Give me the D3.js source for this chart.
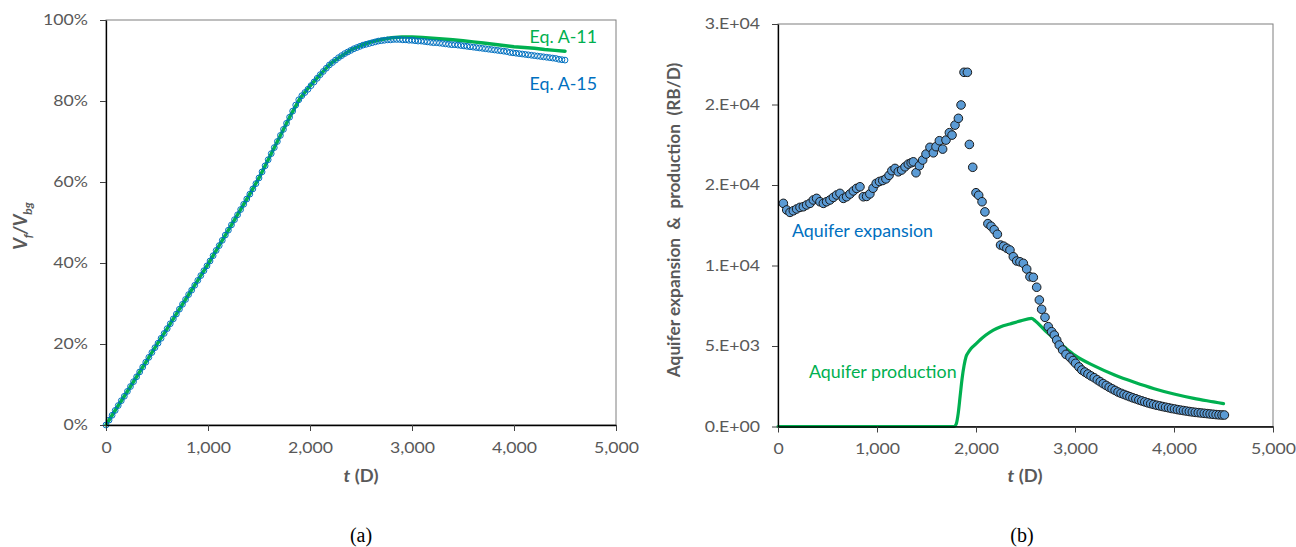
<!DOCTYPE html>
<html>
<head>
<meta charset="utf-8">
<script src="https://cdn.jsdelivr.net/npm/d3@7"></script>
<style>
  body { margin: 0; background: #fff; }
  text { font-family: Lato, "Open Sans", sans-serif; }
</style>
</head>
<body>
<svg id="chart" width="1296" height="547"></svg>
<script>
// ---- data -------------------------------------------------------------
// (a) Vf/Vbg (%) vs t (days)
const eqA11 = [
  [0,0],[100,4.0],[200,7.9],[300,11.9],[400,15.9],[500,19.9],[600,23.8],[700,27.8],
  [800,31.8],[900,35.7],[1000,39.7],[1100,43.9],[1200,48.1],[1300,52.4],[1400,56.6],
  [1500,61.0],[1600,66.0],[1700,71.0],[1800,76.0],[1900,80.6],[2000,83.7],[2100,86.5],
  [2200,89.2],[2300,91.0],[2400,92.6],[2500,93.7],[2600,94.6],[2700,95.2],[2800,95.6],
  [2900,95.8],[3000,95.8],[3100,95.7],[3200,95.5],[3300,95.3],[3400,95.1],[3500,94.9],
  [3600,94.6],[3700,94.3],[3800,94.0],[3900,93.7],[4000,93.4],[4100,93.2],[4200,93.0],
  [4300,92.7],[4400,92.5],[4500,92.3]
];
const eqA15 = [
  [0,0],[30,1.2],[60,2.4],[90,3.6],[120,4.8],[150,6.0],[180,7.1],[210,8.3],[240,9.5],
  [270,10.7],[300,11.9],[330,13.1],[360,14.3],[390,15.5],[420,16.7],[450,17.9],[480,19.1],
  [510,20.2],[540,21.4],[570,22.6],[600,23.8],[630,25.0],[660,26.2],[690,27.4],[720,28.6],
  [750,29.8],[780,31.0],[810,32.2],[840,33.3],[870,34.5],[900,35.7],[930,36.9],[960,38.1],
  [990,39.3],[1020,40.5],[1050,41.8],[1080,43.1],[1110,44.3],[1140,45.6],[1170,46.9],
  [1200,48.1],[1230,49.4],[1260,50.7],[1290,51.9],[1320,53.2],[1350,54.5],[1380,55.8],
  [1410,57.0],[1440,58.3],[1470,59.6],[1500,61.0],[1530,62.5],[1560,64.0],[1590,65.5],
  [1620,67.0],[1650,68.5],[1680,70.0],[1710,71.5],[1740,73.0],[1770,74.5],[1800,76.0],
  [1830,77.5],[1860,79.0],[1890,80.3],[1920,81.3],[1950,82.1],[1980,82.9],[2010,83.8],
  [2040,84.7],[2070,85.6],[2100,86.5],[2130,87.3],[2160,88.1],[2190,88.9],[2220,89.5],
  [2250,90.1],[2280,90.7],[2310,91.2],[2340,91.7],[2370,92.1],[2400,92.5],[2430,92.9],
  [2460,93.2],[2490,93.5],[2520,93.8],[2550,94.0],[2580,94.2],[2610,94.4],[2640,94.6],
  [2670,94.8],[2700,94.9],[2730,95.0],[2760,95.1],[2790,95.1],[2820,95.2],[2850,95.2],
  [2880,95.2],[2910,95.1],[2940,95.1],[2970,95.0],[3000,95.0],[3030,94.9],[3060,94.8],
  [3090,94.8],[3120,94.7],[3150,94.6],[3180,94.5],[3210,94.4],[3240,94.4],[3270,94.3],
  [3300,94.2],[3330,94.1],[3360,94.0],[3390,93.9],[3420,93.9],[3450,93.8],[3480,93.7],
  [3510,93.6],[3540,93.5],[3570,93.4],[3600,93.3],[3630,93.2],[3660,93.1],[3690,93.0],
  [3720,92.9],[3750,92.8],[3780,92.7],[3810,92.6],[3840,92.5],[3870,92.4],[3900,92.3],
  [3930,92.2],[3960,92.0],[3990,91.9],[4020,91.8],[4050,91.7],[4080,91.6],[4110,91.5],
  [4140,91.4],[4170,91.3],[4200,91.2],[4230,91.1],[4260,91.0],[4290,90.9],[4320,90.8],
  [4350,90.7],[4380,90.6],[4410,90.5],[4440,90.3],[4470,90.2],[4500,90.1]
];

// (b) aquifer expansion rate (RB/D) vs t (days)
const expansion = [
  [54,13860],[88,13450],[121,13300],[155,13400],[188,13510],[222,13610],[256,13650],
  [289,13760],[323,13860],[357,14070],[390,14170],[424,13960],[458,13860],[491,13960],
  [525,14070],[559,14230],[592,14380],[626,14480],[660,14170],[693,14270],[727,14440],
  [761,14630],[794,14790],[828,14890],[862,14270],[895,14290],[928,14450],[960,14800],
  [992,15100],[1025,15220],[1058,15280],[1090,15380],[1122,15600],[1150,15890],[1182,16030],
  [1215,15820],[1249,15930],[1283,16130],[1316,16300],[1345,16380],[1367,16440],[1394,15760],
  [1428,16200],[1461,16550],[1495,16920],[1535,17340],[1569,17000],[1596,17380],[1630,17750],
  [1663,17230],[1697,17790],[1731,18250],[1758,18100],[1788,18720],[1822,19140],[1849,19970],
  [1879,22000],[1913,22000],[1933,17520],[1967,16100],[2000,14520],[2027,14360],[2061,13960],
  [2090,13330],[2120,12600],[2152,12440],[2184,12220],[2216,11940],[2248,11270],[2280,11200],
  [2312,11070],[2343,10960],[2377,10545],[2411,10280],[2444,10230],[2478,10135],[2512,9780],
  [2545,9300],[2579,9265],[2613,8650],[2640,7860],[2663,7280],[2697,6780],[2730,6200],
  [2764,5890],[2791,5680],[2815,5370],[2841,5060],[2875,4750],[2909,4480],[2949,4300],
  [2980,4100],[3006,3925],[3040,3700],[3069,3510],[3100,3380],[3131,3260],[3162,3140],
  [3194,3030],[3225,2900],[3255,2780],[3285,2660],[3315,2550],[3345,2440],[3375,2340],
  [3405,2240],[3435,2140],[3465,2060],[3495,1990],[3525,1920],[3555,1850],[3585,1780],
  [3615,1720],[3645,1650],[3675,1590],[3705,1530],[3735,1470],[3765,1420],[3795,1370],
  [3825,1320],[3855,1280],[3885,1240],[3915,1200],[3945,1160],[3975,1120],[4005,1090],
  [4035,1050],[4065,1020],[4095,990],[4125,960],[4155,930],[4185,905],[4215,880],
  [4245,860],[4275,840],[4305,820],[4335,800],[4365,780],[4395,760],[4425,740],
  [4455,725],[4485,715],[4509,714]
];
// aquifer production rate (RB/D)
const production = [
  [0,0],[1780,0],[1800,150],[1820,800],[1840,1900],[1860,3000],[1880,3800],[1900,4350],
  [1920,4580],[1950,4850],[2000,5130],[2040,5370],[2100,5680],[2175,5990],[2250,6200],
  [2343,6370],[2450,6560],[2560,6720],[2600,6550],[2700,5950],[2800,5420],[2900,4900],
  [3000,4420],[3200,3750],[3400,3200],[3600,2750],[3800,2350],[4000,2020],[4200,1750],
  [4400,1530],[4500,1420]
];

const dayTicks = [0, 1000, 2000, 3000, 4000, 5000];
const pctTicks = [0, 20, 40, 60, 80, 100];
const rateTicks = [0, 5000, 10000, 15000, 20000, 25000];
const rateTickLabels = ["0.E+00", "5.E+03", "1.E+04", "2.E+04", "2.E+04", "3.E+04"];

// ---- drawing ----------------------------------------------------------
const svg = d3.select("#chart");
svg.append("rect").attr("width", 1296).attr("height", 547).attr("fill", "#fff");

const GREEN = "#00B050", BLUE = "#0070C0", DOT = "#5B9BD5";
const TICK_GREY = "#595959";

// widen glyphs horizontally around each text's own anchor point
function stretch(sel, s) {
  sel.each(function () {
    const x = +this.getAttribute("x") || 0;
    this.setAttribute("transform", `translate(${x * (1 - s)},0) scale(${s},1)`);
  });
}

function frame(x, y) {
  const [x0, x1] = x.range(), [y0, y1] = y.range();
  svg.append("rect")
    .attr("x", x0).attr("y", y1).attr("width", x1 - x0).attr("height", y0 - y1)
    .attr("fill", "none").attr("stroke", "#7f7f7f").attr("stroke-width", 1);
}

function axes(x, y, yTicks, yFmt) {
  const [x0] = x.range(), [y0] = y.range();
  const gx = svg.append("g").attr("transform", `translate(0,${y0})`)
    .call(d3.axisBottom(x).tickValues(dayTicks).tickFormat(d3.format(","))
      .tickSize(6).tickSizeOuter(0).tickPadding(11));
  const gy = svg.append("g").attr("transform", `translate(${x0},0)`)
    .call(d3.axisLeft(y).tickValues(yTicks).tickFormat(yFmt)
      .tickSize(6).tickSizeOuter(0).tickPadding(12));
  [gx, gy].forEach(g => {
    g.select(".domain").attr("stroke", "#000").attr("stroke-width", 1.3);
    g.selectAll(".tick line").attr("stroke", "#404040").attr("stroke-width", 1);
    g.selectAll(".tick text").attr("fill", TICK_GREY)
      .style("font-size", "15.5px").style("font-family", "Lato, sans-serif");
    stretch(g.selectAll(".tick text"), 1.14);
  });
}

function xTitle(cx) {
  const t = svg.append("text").attr("x", cx).attr("y", 482)
    .attr("text-anchor", "middle").attr("fill", TICK_GREY)
    .style("font-size", "17px").style("font-weight", "bold");
  t.append("tspan").style("font-style", "italic").text("t");
  t.append("tspan").text(" (D)");
  stretch(t, 1.08);
}

function caption(cx, s) {
  svg.append("text").attr("x", cx).attr("y", 542).attr("text-anchor", "middle")
    .attr("fill", "#000").style("font-family", "'Liberation Serif', 'Times New Roman', serif")
    .style("font-size", "20px").text(s);
}

function note(x, y, anchor, color, s) {
  const t = svg.append("text").attr("x", x).attr("y", y).attr("text-anchor", anchor)
    .attr("fill", color).style("font-size", "16.5px").text(s);
  stretch(t, 1.08);
}

// ----- panel (a)
const xa = d3.scaleLinear().domain([0, 5000]).range([106, 616]);
const ya = d3.scaleLinear().domain([0, 100]).range([425, 20]);
frame(xa, ya);

svg.append("path").datum(eqA11)
  .attr("fill", "none").attr("stroke", GREEN).attr("stroke-width", 3.5)
  .attr("stroke-linejoin", "round").attr("stroke-linecap", "round")
  .attr("d", d3.line().x(d => xa(d[0])).y(d => ya(d[1])));

svg.append("g").selectAll("circle").data(eqA15).join("circle")
  .attr("cx", d => xa(d[0])).attr("cy", d => ya(d[1])).attr("r", 2.9)
  .attr("fill", "none").attr("stroke", BLUE).attr("stroke-width", 1);

axes(xa, ya, pctTicks, d => d + "%");
xTitle(361);
caption(361, "(a)");

// y title Vf/Vbg
{
  const t = svg.append("text").attr("transform", "translate(27,226) rotate(-90)")
    .attr("text-anchor", "middle").attr("fill", TICK_GREY)
    .style("font-size", "18px").style("font-weight", "bold").style("font-style", "italic");
  t.append("tspan").text("V");
  t.append("tspan").attr("dy", 5).style("font-size", "12px").text("f");
  t.append("tspan").attr("dy", -5).text("/V");
  t.append("tspan").attr("dy", 5).style("font-size", "12px").text("bg");
}

note(597, 43, "end", GREEN, "Eq. A-11");
note(597, 90, "end", BLUE, "Eq. A-15");

// ----- panel (b)
const xb = d3.scaleLinear().domain([0, 5000]).range([778, 1273]);
const yb = d3.scaleLinear().domain([0, 25000]).range([426.5, 24]);
frame(xb, yb);

svg.append("path").datum(production)
  .attr("fill", "none").attr("stroke", GREEN).attr("stroke-width", 3.2)
  .attr("stroke-linejoin", "round").attr("stroke-linecap", "round")
  .attr("d", d3.line().curve(d3.curveMonotoneX).x(d => xb(d[0])).y(d => yb(d[1])));

svg.append("g").selectAll("circle").data(expansion).join("circle")
  .attr("cx", d => xb(d[0])).attr("cy", d => yb(d[1])).attr("r", 4.3)
  .attr("fill", DOT).attr("stroke", "#1a1a1a").attr("stroke-width", 1);

axes(xb, yb, rateTicks, (d, i) => rateTickLabels[i]);
xTitle(1025);
caption(1022, "(b)");

svg.append("text").attr("transform", "translate(680,220) rotate(-90)")
  .attr("text-anchor", "middle").attr("fill", TICK_GREY)
  .style("font-size", "17.3px").style("font-weight", "bold").style("white-space", "pre")
  .text("Aquifer expansion  &  production  (RB/D)");

note(792, 237, "start", BLUE, "Aquifer expansion");
note(809, 378, "start", GREEN, "Aquifer production");
</script>
</body>
</html>
